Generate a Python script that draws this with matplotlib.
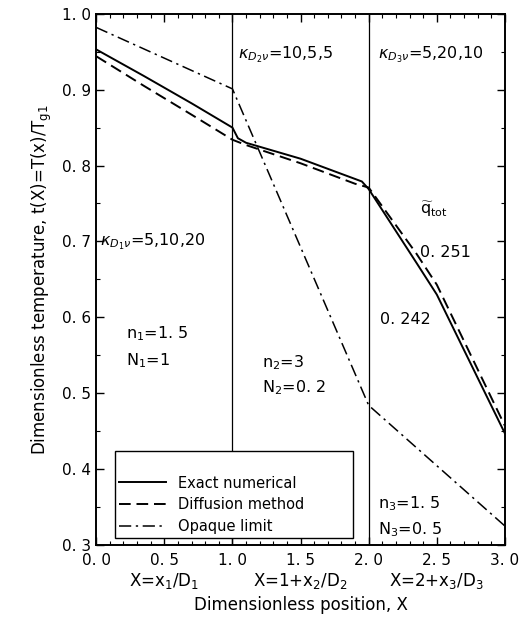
import matplotlib.pyplot as plt
from matplotlib.ticker import MultipleLocator, FuncFormatter

dpi = 100

# Exact numerical solution
x_exact = [0.0, 0.35, 0.7, 1.0, 1.04, 1.1, 1.5, 1.95, 2.0, 2.35, 2.5, 3.0]
t_exact = [0.953, 0.918, 0.882, 0.850, 0.836, 0.830, 0.809, 0.779, 0.769, 0.672, 0.630, 0.447]

# Diffusion method
x_diff = [0.0, 0.35, 0.7, 1.0, 1.1, 1.5, 1.9, 2.0, 2.35, 2.5, 3.0]
t_diff = [0.944, 0.905, 0.867, 0.834, 0.827, 0.803, 0.776, 0.771, 0.684, 0.643, 0.457]

# Opaque limit
x_opaque = [0.0, 1.0, 2.0, 3.0]
t_opaque = [0.982, 0.901, 0.484, 0.325]

fig = plt.figure(figsize=(5.2, 6.25), dpi=dpi)
ax = fig.add_axes([0.185, 0.128, 0.786, 0.850])

ax.plot(x_exact, t_exact, color="k", lw=1.4, label="Exact numerical")
ax.plot(x_diff, t_diff, color="k", lw=1.4, ls=(0, (6, 3)), label="Diffusion method")
ax.plot(x_opaque, t_opaque, color="k", lw=1.1, ls=(0, (8, 3, 1.5, 3)), label="Opaque limit")

# region boundaries
ax.axvline(1.0, color="k", lw=0.9)
ax.axvline(2.0, color="k", lw=0.9)

ax.set_xlim(0, 3)
ax.set_ylim(0.3, 1.0)
ax.xaxis.set_major_locator(MultipleLocator(0.5))
ax.xaxis.set_minor_locator(MultipleLocator(0.1))
ax.yaxis.set_major_locator(MultipleLocator(0.1))
ax.yaxis.set_minor_locator(MultipleLocator(0.05))
fmt = FuncFormatter(lambda v, p: f"{v:.1f}".replace(".", ". "))
ax.xaxis.set_major_formatter(fmt)
ax.yaxis.set_major_formatter(fmt)
ax.tick_params(which="both", direction="in", top=True, right=True, labelsize=11)
ax.tick_params(which="major", length=6, width=1)
ax.tick_params(which="minor", length=3, width=0.8)
ax.tick_params(axis="x", pad=6)
for s in ax.spines.values():
    s.set_linewidth(1.4)

ax.set_ylabel(r"Dimensionless temperature, t(X)=T(x)/T$_{\rm g1}$", fontsize=12, labelpad=6)
ax.set_xlabel("Dimensionless position, X", fontsize=12, labelpad=20)
for xc, lab in [(0.5, r"X=x$_1$/D$_1$"), (1.5, r"X=1+x$_2$/D$_2$"), (2.5, r"X=2+x$_3$/D$_3$")]:
    ax.text(xc, -0.068, lab, transform=ax.get_xaxis_transform(), ha="center", va="center", fontsize=12)

fs = 11.5
ax.text(0.03, 0.70, r"$\kappa_{D_1\nu}$=5,10,20", fontsize=fs, va="center")
ax.text(1.04, 0.946, r"$\kappa_{D_2\nu}$=10,5,5", fontsize=fs, va="center")
ax.text(2.07, 0.946, r"$\kappa_{D_3\nu}$=5,20,10", fontsize=fs, va="center")
ax.text(2.38, 0.742, r"$\widetilde{\rm q}_{\rm tot}$", fontsize=fs, va="center")
ax.text(2.38, 0.685, "0. 251", fontsize=fs, va="center")
ax.text(2.08, 0.597, "0. 242", fontsize=fs, va="center")
ax.text(0.22, 0.578, r"n$_1$=1. 5", fontsize=fs, va="center")
ax.text(0.22, 0.543, r"N$_1$=1", fontsize=fs, va="center")
ax.text(1.22, 0.540, r"n$_2$=3", fontsize=fs, va="center")
ax.text(1.22, 0.507, r"N$_2$=0. 2", fontsize=fs, va="center")
ax.text(2.07, 0.354, r"n$_3$=1. 5", fontsize=fs, va="center")
ax.text(2.07, 0.320, r"N$_3$=0. 5", fontsize=fs, va="center")

leg = ax.legend(loc="lower left", bbox_to_anchor=(0.046, 0.013, 0.582, 0.166), mode="expand",
                title=" ", title_fontsize=10,
                fontsize=10.5, frameon=True, fancybox=False, edgecolor="k", framealpha=1,
                handlelength=3.2, borderaxespad=0, labelspacing=0.45, borderpad=0.3)
leg.get_frame().set_linewidth(1.0)
leg.set_zorder(5)

fig.savefig("out.png", dpi=dpi)
